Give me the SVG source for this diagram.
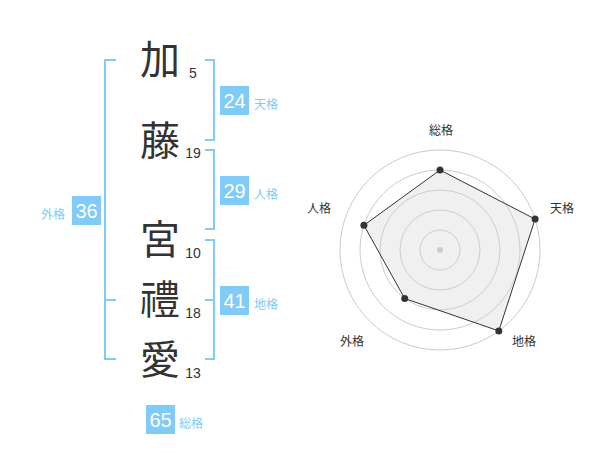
<svg xmlns="http://www.w3.org/2000/svg" width="600" height="470" viewBox="0 0 600 470">
<style>
.kanji{font-family:"Noto Sans CJK JP","Noto Sans CJK SC",sans-serif;font-size:40px;fill:#333;text-anchor:middle}
.num{font-family:"Liberation Sans",Arial,sans-serif;font-size:14px;fill:#333;text-anchor:middle}
.br{fill:none;stroke:#80cbf7;stroke-width:2}
.box{fill:#80cbf7}
.bt{font-family:"Liberation Sans",Arial,sans-serif;font-size:20px;fill:#fff;text-anchor:middle}
.lab{font-family:"Noto Sans CJK JP","Noto Sans CJK SC",sans-serif;font-size:12px;fill:#80cbf7}
.rl{font-family:"Noto Sans CJK JP","Noto Sans CJK SC",sans-serif;font-size:12px;fill:#333;text-anchor:middle}
.ring{fill:none;stroke:#ccc;stroke-width:1}
.pt{fill:#333}
</style>
<rect width="600" height="470" fill="#fff"/>
<g id="connectors">
<path class="br" d="M116,60 H105 V359 H116 M105,300 H116"/>
<path class="br" d="M205,60 H214 V140 H205"/>
<path class="br" d="M205,150 H214 V229 H205"/>
<path class="br" d="M205,240 H214 V359 H205 M214,300 H205"/>
</g>
<g id="char1"><text class="kanji" x="160" y="74">加</text><text class="num" x="193" y="78">5</text></g>
<g id="char2"><text class="kanji" x="160" y="155">藤</text><text class="num" x="193" y="158">19</text></g>
<g id="char3"><text class="kanji" x="160" y="254">宮</text><text class="num" x="193" y="258">10</text></g>
<g id="char4"><text class="kanji" x="160" y="314">禮</text><text class="num" x="193" y="318">18</text></g>
<g id="char5"><text class="kanji" x="160" y="374">愛</text><text class="num" x="193" y="378">13</text></g>
<g id="tenkaku"><rect class="box" x="220" y="86" width="29" height="29"/><text class="bt" x="234.5" y="108">24</text><text class="lab" x="254" y="109">天格</text></g>
<g id="jinkaku"><rect class="box" x="220" y="176" width="29" height="29"/><text class="bt" x="234.5" y="198">29</text><text class="lab" x="254" y="199">人格</text></g>
<g id="chikaku"><rect class="box" x="220" y="286" width="29" height="29"/><text class="bt" x="234.5" y="308">41</text><text class="lab" x="254" y="309">地格</text></g>
<g id="gaikaku"><rect class="box" x="72" y="196" width="29" height="29"/><text class="bt" x="86.5" y="218">36</text><text class="lab" x="65" y="219" text-anchor="end">外格</text></g>
<g id="soukaku"><rect class="box" x="146" y="405" width="29" height="29"/><text class="bt" x="160.5" y="427">65</text><text class="lab" x="179" y="428">総格</text></g>
<g id="radar">
<polygon points="440,170 535.1,219.1 498.8,330.9 404.7,298.5 363.9,225.3" fill="#f0f0f0"/>
<circle class="ring" cx="440" cy="250" r="20"/>
<circle class="ring" cx="440" cy="250" r="40"/>
<circle class="ring" cx="440" cy="250" r="60"/>
<circle class="ring" cx="440" cy="250" r="80"/>
<circle class="ring" cx="440" cy="250" r="100"/>
<circle cx="440" cy="250" r="3" fill="#ccc"/>
<polygon points="440,170 535.1,219.1 498.8,330.9 404.7,298.5 363.9,225.3" fill="none" stroke="#333" stroke-width="1"/>
<circle class="pt" cx="440" cy="170" r="3.5"/>
<circle class="pt" cx="535.1" cy="219.1" r="3.5"/>
<circle class="pt" cx="498.8" cy="330.9" r="3.5"/>
<circle class="pt" cx="404.7" cy="298.5" r="3.5"/>
<circle class="pt" cx="363.9" cy="225.3" r="3.5"/>
<text class="rl" x="441" y="135">総格</text>
<text class="rl" x="562" y="213">天格</text>
<text class="rl" x="524" y="346">地格</text>
<text class="rl" x="352" y="346">外格</text>
<text class="rl" x="319" y="213">人格</text>
</g>
</svg>
